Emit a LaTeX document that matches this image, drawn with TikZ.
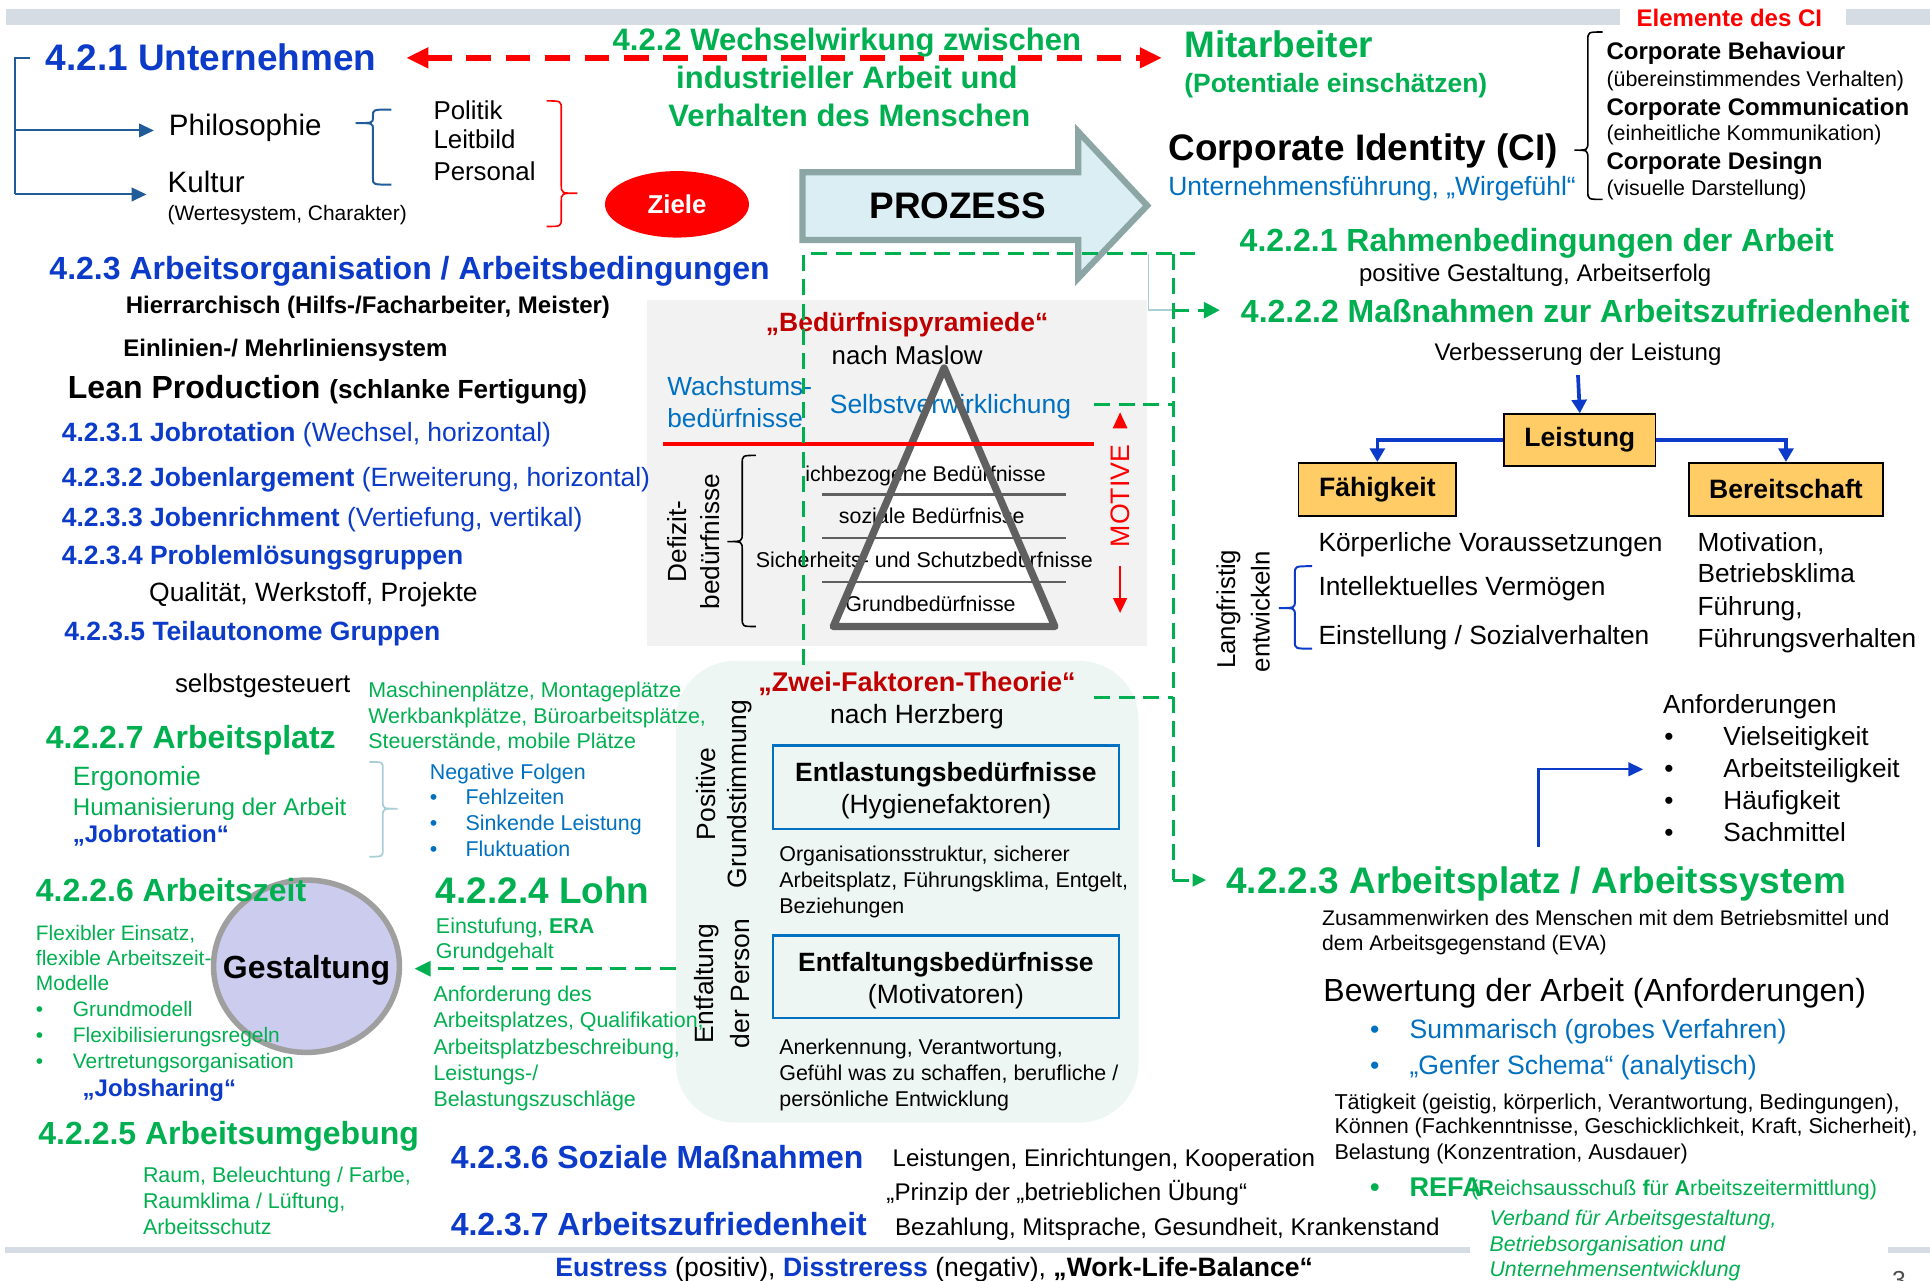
\documentclass[tikz,border=0pt]{standalone}
\usepackage{fontspec}
\setmainfont{Liberation Sans}
\usetikzlibrary{arrows.meta,shapes.geometric}
\definecolor{hblue}{HTML}{0B3BC8}
\definecolor{lblue}{HTML}{0070C0}
\definecolor{sgreen}{HTML}{00B050}
\definecolor{dred}{HTML}{C00000}
\definecolor{bred}{HTML}{FF0000}
\definecolor{barg}{HTML}{D5DCE4}
\definecolor{steel}{HTML}{1F5C99}
\definecolor{boxor}{HTML}{FFCC66}
\definecolor{procfill}{HTML}{DAEEF3}
\definecolor{procline}{HTML}{8CA6A6}
\definecolor{panelg}{HTML}{F2F2F2}
\definecolor{mint}{HTML}{EEF6F4}
\definecolor{lav}{HTML}{CCCCEE}
\definecolor{pyr}{HTML}{606060}
\definecolor{tealb}{HTML}{A9CFD6}
\newcommand{\fz}[2]{\fontsize{#1}{#2}\selectfont}
% curly brace: style, x of ends, x of spine, x of point, y top, y point, y bottom, bend
\newcommand{\mybrace}[8]{\draw[#1] (#2,#5) .. controls (#3,#5) .. (#3,{#5+#8}) -- (#3,{#6-#8}) .. controls (#3,#6) .. (#4,#6) .. controls (#3,#6) .. (#3,{#6+#8}) -- (#3,{#7-#8}) .. controls (#3,#7) .. (#2,#7);}
\begin{document}
\begin{tikzpicture}[x=1pt,y=-1pt,
  t/.style={inner sep=0pt, anchor=base west},
  tc/.style={inner sep=0pt, anchor=base},
  gdash/.style={draw=sgreen, line width=2.4pt, dash pattern=on 13pt off 7pt},
  barrow/.style={draw=hblue, line width=3pt, -{Triangle[length=11pt,width=12pt]}},
  obox/.style={draw=black, line width=1.4pt, fill=boxor, inner sep=0pt, font=\fz{21.6}{26}\bfseries},
  fbox/.style={draw=lblue, line width=2pt, inner sep=0pt, minimum width=281pt, align=center, font=\fz{21.5}{26}}
]
\clip (0,0) rectangle (1568,1040);
\fill[white] (0,0) rectangle (1568,1040);

% frame bars
\fill[barg] (5,7) rectangle (1316,20);
\fill[barg] (1500,7) rectangle (1568,20);
\fill[barg] (4,1013) rectangle (1194,1018);
\fill[barg] (1534,1013) rectangle (1568,1018);

% background panels
\node[fill=panelg, minimum width=406pt, minimum height=281pt, inner sep=0pt] (pyp) at (729,384.5) {};
\node[fill=mint, rounded corners=48pt, minimum width=376pt, minimum height=375pt, inner sep=0pt] (tfp) at (737,724.5) {};

% process arrow
\draw[fill=procfill, draw=procline, line width=5pt, line join=miter]
  (652,140) -- (876,140) -- (876,107) -- (932,167) -- (876,226) -- (876,195) -- (652,195) -- cycle;
\node[font=\fz{30}{36}\bfseries, inner sep=0pt] (proz) at (778,167) {PROZESS};

% Gestaltung circle
\node[ellipse, draw=gray!75, line width=4.5pt, fill=lav, minimum width=151pt, minimum height=140pt, inner sep=0pt] (gest) at (249,785) {};

% Ziele
\node[ellipse, fill=bred, minimum width=117pt, minimum height=54pt, inner sep=0pt, text=white, font=\fz{21}{25}\bfseries] (ziele) at (550,166) {Ziele};

% ---------- top left ----------
\node[t, font=\fz{30}{36}\bfseries, text=hblue] (unt) at (37,57) {4.2.1 Unternehmen};
\node[t, font=\fz{24}{28}] (phil) at (137,110) {Philosophie};
\node[t, font=\fz{24}{28}] (kult) at (136,156) {Kultur};
\node[t, font=\fz{17}{20}] (werte) at (136,179) {(Wertesystem, Charakter)};
\node[t, font=\fz{21}{25}] (pol) at (352,97) {Politik};
\node[t, font=\fz{21}{25}] (leit) at (352,121) {Leitbild};
\node[t, font=\fz{21}{25}] (pers) at (352,147) {Personal};
\coordinate (brtop) at (24,47);
\coordinate (brbot) at (12,158);
\coordinate (philin) at (125,106);
\coordinate (kultin) at (119,158);
\draw[steel, line width=1.6pt] (brtop) -- (12,47) -- (brbot);
\draw[steel, line width=1.6pt, -{Triangle[length=12pt,width=11pt]}] (12,106) -- (philin);
\draw[steel, line width=1.6pt, -{Triangle[length=12pt,width=11pt]}] (brbot) -- (kultin);
\mybrace{steel, line width=1.6pt}{318}{303}{289}{89}{100}{150}{5}
\mybrace{bred, line width=1.3pt}{444}{456}{469}{82}{157}{184}{7}

% interaction arrow
\coordinate (rdL) at (330,47);
\coordinate (rdR) at (944,47);
\draw[bred, line width=4.5pt, dash pattern=on 20pt off 12pt,
  {Triangle[length=18pt,width=16pt]}-{Triangle[length=18pt,width=16pt]}] (rdL) -- (rdR);

\node[tc, font=\fz{25.2}{30}\bfseries, text=sgreen] (ww1) at (688,41) {4.2.2 Wechselwirkung zwischen};
\node[tc, font=\fz{25.2}{30}\bfseries, text=sgreen] (ww2) at (688,72) {industrieller Arbeit und};
\node[tc, font=\fz{25.2}{30}\bfseries, text=sgreen] (ww3) at (690,103) {Verhalten des Menschen};

% ---------- top right ----------
\node[t, font=\fz{30}{36}\bfseries, text=sgreen] (mit) at (962,47) {Mitarbeiter};
\node[t, font=\fz{21.5}{26}\bfseries, text=sgreen] (pot) at (962,75) {(Potentiale einschätzen)};
\node[tc, font=\fz{19.5}{23}\bfseries, text=bred] (elem) at (1405,21.5) {Elemente des CI};
\node[t, font=\fz{30}{36}\bfseries] (ci) at (949,130) {Corporate Identity (CI)};
\node[t, font=\fz{21.5}{26}, text=lblue] (uf) at (949,159) {Unternehmensführung, „Wirgefühl“};
\mybrace{black, line width=1.3pt}{1302}{1290}{1279}{26}{122}{162}{7}
\node[t, font=\fz{19.5}{23}\bfseries] (cb) at (1305,48.5) {Corporate Behaviour};
\node[t, font=\fz{17.4}{21}] (cb2) at (1305,70) {(übereinstimmendes Verhalten)};
\node[t, font=\fz{19.5}{23}\bfseries] (cc) at (1305,93.5) {Corporate Communication};
\node[t, font=\fz{17.4}{21}] (cc2) at (1305,114) {(einheitliche Kommunikation)};
\node[t, font=\fz{19.5}{23}\bfseries] (cd) at (1305,137.5) {Corporate Desingn};
\node[t, font=\fz{17.4}{21}] (cd2) at (1305,159) {(visuelle Darstellung)};

% ---------- right column ----------
\node[t, font=\fz{26}{30}\bfseries, text=sgreen] (r1) at (1007,204) {4.2.2.1 Rahmenbedingungen der Arbeit};
\node[t, font=\fz{19.5}{23}] (r1b) at (1104,228.5) {positive Gestaltung, Arbeitserfolg};
\node[t, font=\fz{26}{30}\bfseries, text=sgreen] (r2) at (1008,262) {4.2.2.2 Maßnahmen zur Arbeitszufriedenheit};
\node[tc, font=\fz{19.5}{23}] (verb) at (1282,292.5) {Verbesserung der Leistung};

\node[obox, minimum width=123pt, minimum height=42pt] (leist) at (1283.5,357.5) {Leistung};
\node[obox, minimum width=128pt, minimum height=43pt] (faeh) at (1119,397.5) {Fähigkeit};
\node[obox, minimum width=158pt, minimum height=43pt] (bereit) at (1451,397.5) {Bereitschaft};
\draw[barrow] ([yshift=-8pt]verb.south) -- (leist.north);
\draw[barrow] (leist.west) -| (faeh.north);
\draw[barrow] (leist.east) -| (bereit.north);

\node[t, font=\fz{21.4}{25}] (k1) at (1071,448) {Körperliche Voraussetzungen};
\node[t, font=\fz{21.4}{25}] (k2) at (1071,484) {Intellektuelles Vermögen};
\node[t, font=\fz{21.4}{25}] (k3) at (1071,524) {Einstellung / Sozialverhalten};
\mybrace{hblue, line width=1.6pt}{1066}{1052}{1039}{460}{494}{527}{6}
\node[rotate=90, font=\fz{21}{25}, inner sep=0pt] (lf1) at (998,495) {Langfristig};
\node[rotate=90, font=\fz{21}{25}, inner sep=0pt] (lf2) at (1024,497) {entwickeln};

\node[t, font=\fz{21.3}{25}] (m1) at (1379,448) {Motivation,};
\node[t, font=\fz{21.3}{25}] (m2) at (1379,473) {Betriebsklima};
\node[t, font=\fz{21.3}{25}] (m3) at (1379,500) {Führung,};
\node[t, font=\fz{21.3}{25}] (m4) at (1379,526) {Führungsverhalten};

\node[t, font=\fz{21.3}{25}] (anf) at (1351,580) {Anforderungen};
\foreach \yy/\tx/\nm in {606/Vielseitigkeit/a1, 632/Arbeitsteiligkeit/a2, 658/Häufigkeit/a3, 684/Sachmittel/a4}{
  \node[t, font=\fz{21.3}{25}] (b\nm) at (1352,\yy) {•};
  \node[t, font=\fz{21.3}{25}] (\nm) at (1400,\yy) {\tx};
}
\coordinate (anfS) at (1250,688);
\coordinate (anfT) at (1335,625);
\draw[hblue, line width=1.8pt, -{Triangle[length=12pt,width=11pt]}] (anfS) |- (anfT);

\node[t, font=\fz{30}{36}\bfseries, text=sgreen] (r3) at (996,726) {4.2.2.3 Arbeitsplatz / Arbeitssystem};
\node[t, font=\fz{17.2}{20}] (z1) at (1074,752) {Zusammenwirken des Menschen mit dem Betriebsmittel und};
\node[t, font=\fz{17.2}{20}] (z2) at (1074,772) {dem Arbeitsgegenstand (EVA)};
\node[t, font=\fz{26}{30}] (bew) at (1075,814) {Bewertung der Arbeit (Anforderungen)};
\node[t, font=\fz{21.6}{25}, text=lblue] (s0) at (1113,844) {•};
\node[t, font=\fz{21.6}{25}, text=lblue] (s1) at (1145,844) {Summarisch (grobes Verfahren)};
\node[t, font=\fz{21.6}{25}, text=lblue] (g0) at (1113,873) {•};
\node[t, font=\fz{21.6}{25}, text=lblue] (g1) at (1145,873) {„Genfer Schema“ (analytisch)};
\node[t, font=\fz{17.5}{21}] (tk1) at (1084,901) {Tätigkeit (geistig, körperlich, Verantwortung, Bedingungen),};
\node[t, font=\fz{17.5}{21}] (tk2) at (1084,921) {Können (Fachkenntnisse, Geschicklichkeit, Kraft, Sicherheit),};
\node[t, font=\fz{17.5}{21}] (tk3) at (1084,942) {Belastung (Konzentration, Ausdauer)};
\node[t, font=\fz{22}{26}\bfseries, text=sgreen] (rf0) at (1113,972) {•};
\node[t, font=\fz{22}{26}\bfseries, text=sgreen] (refa) at (1145,972) {REFA};
\node[t, font=\fz{17.4}{21}, text=sgreen] (refb) at (1195,971) {(\textbf{R}eichsausschuß \textbf{f}ür \textbf{A}rbeitszeitermittlung)};
\node[t, font=\fz{17.3}{21}\itshape, text=sgreen] (vb1) at (1210,996) {Verband für Arbeitsgestaltung,};
\node[t, font=\fz{17.3}{21}\itshape, text=sgreen] (vb2) at (1210,1017) {Betriebsorganisation und};
\node[t, font=\fz{17.3}{21}\itshape, text=sgreen] (vb3) at (1210,1037) {Unternehmensentwicklung};
\node[t, font=\fz{20}{24}, text=black!70] (pnum) at (1537,1047) {3};

% ---------- left column ----------
\node[t, font=\fz{26}{30}\bfseries, text=hblue] (ao) at (40,227) {4.2.3 Arbeitsorganisation / Arbeitsbedingungen};
\node[t, font=\fz{19.5}{23}\bfseries] (hier) at (102,254.5) {Hierrarchisch (Hilfs-/Facharbeiter, Meister)};
\node[t, font=\fz{19.5}{23}\bfseries] (einl) at (100,289.5) {Einlinien-/ Mehrliniensystem};
\node[t, font=\fz{26}{30}\bfseries] (lean) at (55,323.5) {Lean Production {\fz{21.3}{25}(schlanke Fertigung)}};
\node[t, font=\fz{21.5}{25}, text=hblue] (j1) at (50,359) {\textbf{4.2.3.1 Jobrotation} (Wechsel, horizontal)};
\node[t, font=\fz{21.5}{25}, text=hblue] (j2) at (50,395) {\textbf{4.2.3.2 Jobenlargement} (Erweiterung, horizontal)};
\node[t, font=\fz{21.5}{25}, text=hblue] (j3) at (50,428) {\textbf{4.2.3.3 Jobenrichment} (Vertiefung, vertikal)};
\node[t, font=\fz{21.5}{25}\bfseries, text=hblue] (j4) at (50,459) {4.2.3.4 Problemlösungsgruppen};
\node[t, font=\fz{21.5}{25}] (qual) at (121,489) {Qualität, Werkstoff, Projekte};
\node[t, font=\fz{21.5}{25}\bfseries, text=hblue] (j5) at (52,520) {4.2.3.5 Teilautonome Gruppen};
\node[t, font=\fz{21}{25}] (selb) at (142,563) {selbstgesteuert};

\node[t, font=\fz{26}{30}\bfseries, text=sgreen] (ap) at (37,608) {4.2.2.7 Arbeitsplatz};
\node[t, font=\fz{17.4}{21}, text=sgreen] (ms1) at (299,567) {Maschinenplätze, Montageplätze};
\node[t, font=\fz{17.4}{21}, text=sgreen] (ms2) at (299,588) {Werkbankplätze, Büroarbeitsplätze,};
\node[t, font=\fz{17.4}{21}, text=sgreen] (ms3) at (299,608) {Steuerstände, mobile Plätze};
\node[t, font=\fz{21.5}{25}, text=sgreen] (ergo) at (59,638) {Ergonomie};
\node[t, font=\fz{19.6}{23}, text=sgreen] (hum) at (59,662.5) {Humanisierung der Arbeit};
\node[t, font=\fz{19.5}{23}\bfseries, text=hblue] (jrot) at (59,684.5) {„Jobrotation“};
\mybrace{tealb, line width=1.4pt}{300}{311}{323}{619}{657}{696}{6}
\node[t, font=\fz{17.4}{21}, text=lblue] (neg) at (349,633) {Negative Folgen};
\foreach \yy/\tx/\nm in {654/Fehlzeiten/n1, 675/Sinkende Leistung/n2, 696/Fluktuation/n3}{
  \node[t, font=\fz{17.4}{21}, text=lblue] (b\nm) at (349,\yy) {•};
  \node[t, font=\fz{17.4}{21}, text=lblue] (\nm) at (378,\yy) {\tx};
}

\node[font=\fz{26}{30}\bfseries, inner sep=0pt] (gtxt) at (249,788) {Gestaltung};
\node[t, font=\fz{26}{30}\bfseries, text=sgreen] (az) at (29,732) {4.2.2.6 Arbeitszeit};
\node[t, font=\fz{17}{20}, text=sgreen] (fx1) at (29,764) {Flexibler Einsatz,};
\node[t, font=\fz{17}{20}, text=sgreen] (fx2) at (29,784) {flexible Arbeitszeit-};
\node[t, font=\fz{17}{20}, text=sgreen] (fx3) at (29,805) {Modelle};
\foreach \yy/\tx/\nm in {826/Grundmodell/f1, 847/Flexibilisierungsregeln/f2, 868/Vertretungsorganisation/f3}{
  \node[t, font=\fz{17}{20}, text=sgreen] (b\nm) at (29,\yy) {•};
  \node[t, font=\fz{17}{20}, text=sgreen] (\nm) at (59,\yy) {\tx};
}
\node[t, font=\fz{19.5}{23}\bfseries, text=hblue] (jsh) at (67,890.5) {„Jobsharing“};
\node[t, font=\fz{26}{30}\bfseries, text=sgreen] (au) at (31,930) {4.2.2.5 Arbeitsumgebung};
\node[t, font=\fz{17.4}{21}, text=sgreen] (ru1) at (116,961) {Raum, Beleuchtung / Farbe,};
\node[t, font=\fz{17.4}{21}, text=sgreen] (ru2) at (116,982) {Raumklima / Lüftung,};
\node[t, font=\fz{17.4}{21}, text=sgreen] (ru3) at (116,1003) {Arbeitsschutz};

\node[t, font=\fz{30}{36}\bfseries, text=sgreen] (lohn) at (354,734) {4.2.2.4 Lohn};
\node[t, font=\fz{17.4}{21}, text=sgreen] (lo1) at (354,758) {Einstufung, \textbf{ERA}};
\node[t, font=\fz{17.4}{21}, text=sgreen] (lo2) at (354,779) {Grundgehalt};
\node[t, font=\fz{17.4}{21}, text=sgreen] (an1) at (352,814) {Anforderung des};
\node[t, font=\fz{17.4}{21}, text=sgreen] (an2) at (352,835) {Arbeitsplatzes, Qualifikation,};
\node[t, font=\fz{17.4}{21}, text=sgreen] (an3) at (352,857) {Arbeitsplatzbeschreibung,};
\node[t, font=\fz{17.4}{21}, text=sgreen] (an4) at (352,878) {Leistungs-/};
\node[t, font=\fz{17.4}{21}, text=sgreen] (an5) at (352,899) {Belastungszuschläge};

% ---------- bottom ----------
\node[t, font=\fz{26}{30}\bfseries, text=hblue] (soz) at (366,949) {4.2.3.6 Soziale Maßnahmen};
\node[t, font=\fz{19.6}{23}] (soz1) at (725,947.5) {Leistungen, Einrichtungen, Kooperation};
\node[t, font=\fz{19.6}{23}] (soz2) at (720,975.5) {„Prinzip der „betrieblichen Übung“};
\node[t, font=\fz{26}{30}\bfseries, text=hblue] (azf) at (366,1004) {4.2.3.7 Arbeitszufriedenheit};
\node[t, font=\fz{19.6}{23}] (azf1) at (727,1003.5) {Bezahlung, Mitsprache, Gesundheit, Krankenstand};
\node[tc, font=\fz{21.6}{26}] (eu) at (759,1037) {\textcolor{hblue}{\textbf{Eustress}} (positiv), \textcolor{hblue}{\textbf{Disstreress}} (negativ), \textbf{„Work-Life-Balance“}};

% ---------- Maslow pyramid ----------
\fill[white] (767,299) -- (857,509) -- (677,509) -- cycle;
\draw[pyr, line width=2.5pt] (668,402) -- (866,402);
\draw[pyr, line width=1.5pt] (668,437) -- (866,437);
\draw[pyr, line width=1.5pt] (668,473) -- (866,473);
\node[tc, font=\fz{21.5}{25}\bfseries, text=dred] (bp) at (737,269.5) {„Bedürfnispyramiede“};
\node[tc, font=\fz{21}{25}] (nm) at (737,296) {nach Maslow};
\node[t, font=\fz{21.3}{25}, text=lblue] (wa1) at (542,321) {Wachstums-};
\node[t, font=\fz{21.3}{25}, text=lblue] (wa2) at (542,347) {bedürfnisse};
\node[t, font=\fz{21.5}{25}, text=lblue] (sv) at (674,336) {Selbstverwirklichung};
\node[tc, font=\fz{17.4}{21}] (p1) at (752,391) {ichbezogene Bedürfnisse};
\node[tc, font=\fz{17.4}{21}] (p2) at (757,425) {soziale Bedürfnisse};
\node[tc, font=\fz{17.4}{21}] (p3) at (751,461) {Sicherheits- und Schutzbedürfnisse};
\node[tc, font=\fz{17.4}{21}] (p4) at (756,497) {Grundbedürfnisse};
\draw[pyr, line width=6pt, line join=round] (767,299) -- (857,509) -- (677,509) -- cycle;
\draw[bred, line width=3pt] (539,361) -- (889,361);
\node[rotate=90, font=\fz{21.3}{25}, inner sep=0pt] (df1) at (550,440) {Defizit-};
\node[rotate=90, font=\fz{21.3}{25}, inner sep=0pt] (df2) at (577,440) {bedürfnisse};
\mybrace{black, line width=1.3pt}{614}{603}{591}{370}{440}{509}{7}
\node[rotate=90, font=\fz{21.7}{25}, text=bred, inner sep=0pt] (mot) at (910,403) {MOTIVE};
\fill[bred] (910,335) -- (904,348) -- (916,348) -- cycle;
\draw[bred, line width=1.8pt, -{Triangle[length=12pt,width=11pt]}] (910,460) -- (910,498);

% ---------- Herzberg ----------
\node[tc, font=\fz{22}{26}\bfseries, text=dred] (zf) at (745,562) {„Zwei-Faktoren-Theorie“};
\node[tc, font=\fz{21.5}{25}] (nh) at (745,588) {nach Herzberg};
\node[fbox, minimum height=68pt] (entl) at (768.5,639.5) {\rule{0pt}{22pt}\textbf{Entlastungsbedürfnisse}\\(Hygienefaktoren)};
\node[fbox, minimum height=67pt] (entf) at (768.5,793.5) {\rule{0pt}{22pt}\textbf{Entfaltungsbedürfnisse}\\(Motivatoren)};
\node[t, font=\fz{17.4}{21}] (o1) at (633,700) {Organisationsstruktur, sicherer};
\node[t, font=\fz{17.4}{21}] (o2) at (633,721) {Arbeitsplatz, Führungsklima, Entgelt,};
\node[t, font=\fz{17.4}{21}] (o3) at (633,742) {Beziehungen};
\node[t, font=\fz{17.4}{21}] (e1) at (633,857) {Anerkennung, Verantwortung,};
\node[t, font=\fz{17.4}{21}] (e2) at (633,878) {Gefühl was zu schaffen, berufliche /};
\node[t, font=\fz{17.4}{21}] (e3) at (633,899) {persönliche Entwicklung};
\node[rotate=90, font=\fz{21.5}{25}, inner sep=0pt] (pg1) at (574,645) {Positive};
\node[rotate=90, font=\fz{21.5}{25}, inner sep=0pt] (pg2) at (601,645) {Grundstimmung};
\node[rotate=90, font=\fz{21.5}{25}, inner sep=0pt] (ep1) at (574,799) {Entfaltung};
\node[rotate=90, font=\fz{21.5}{25}, inner sep=0pt] (ep2) at (601,799) {der Person};

% ---------- green dashed links ----------
\coordinate (gA) at (653,540);
\coordinate (gB) at (653,206);
\coordinate (gC) at (971,206);
\coordinate (gD) at (953,206);
\coordinate (gE) at (953,715);
\coordinate (g2) at (991,252);
\coordinate (g3) at (980,715);
\draw[tealb, line width=1.2pt] (933,206) -- (933,252) -- (953,252);
\draw[gdash] (gA) -- (gB) -- (gC);
\draw[gdash] (gD) -- (gE);
\draw[gdash, -{Triangle[length=13pt,width=13pt]}] (953,252) -- (g2);
\draw[gdash, -{Triangle[length=11pt,width=10pt]}] (gE) -- (g3);
\draw[gdash] (889,329) -- (953,329);
\draw[gdash] (889,567) -- (953,567);
\draw[gdash, -{Triangle[length=13pt,width=12pt]}] (tfp.west |- 0,787) -- ([xshift=10pt]gest.east |- 0,787);
\end{tikzpicture}
\end{document}
